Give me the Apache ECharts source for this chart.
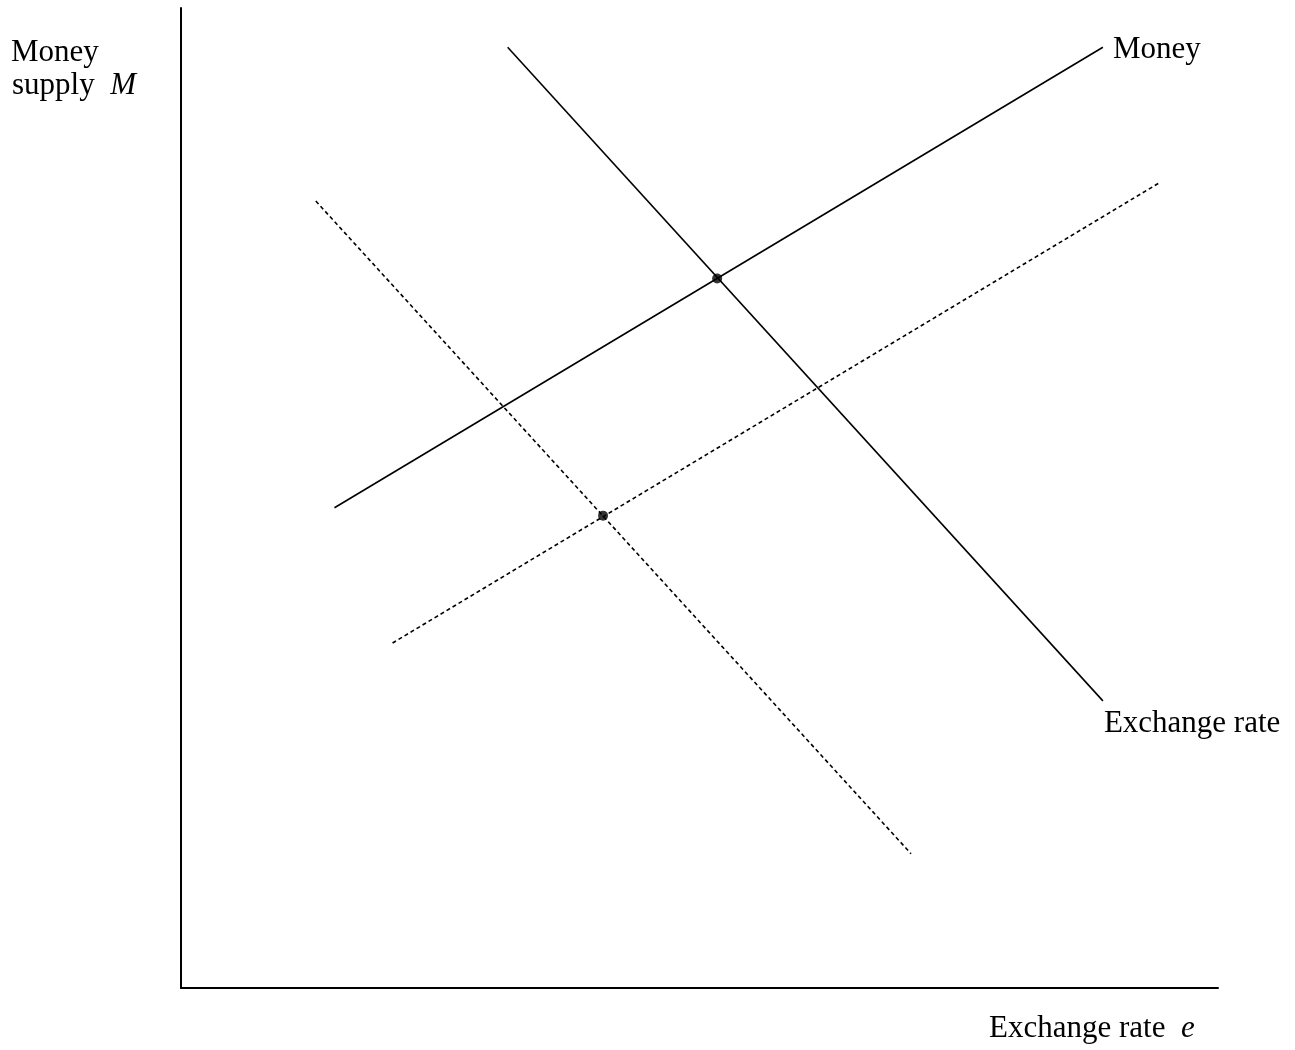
<!DOCTYPE html>
<html>
<head>
<meta charset="utf-8">
<script src="https://cdn.jsdelivr.net/npm/echarts@6/dist/echarts.min.js"></script>
<style>
html,body{margin:0;padding:0;background:#fff;}
#chart{width:1295px;height:1050px;}
</style>
</head>
<body>
<div id="chart"></div>
<script>
// Data (arbitrary units, x: 0-100, y: 0-100)
var moneyLine = [[14.8, 49.0], [88.9, 96.0]];
var exchangeLine = [[31.5, 96.0], [88.9, 29.3]];
var moneyLineShifted = [[20.4, 35.2], [94.4, 82.2]];
var exchangeLineShifted = [[13.0, 80.3], [70.4, 13.7]];
var equilibria = [[51.7, 72.4], [40.7, 48.2]];
var seriesNames = ['Money', 'Exchange rate'];
var yAxisTitle = ['Money', 'supply  {i|M}'];
var xAxisTitle = 'Exchange rate  {i|e}';

var FONT = '"Liberation Serif", "Times New Roman", serif';
var FS = 31;

var chart = echarts.init(document.getElementById('chart'));
chart.setOption({
  animation: false,
  backgroundColor: '#ffffff',
  grid: { left: 181, right: 77, top: 8, bottom: 62 },
  xAxis: {
    type: 'value', min: 0, max: 100,
    axisLine: { show: true, onZero: false, lineStyle: { color: '#000', width: 2 } },
    axisTick: { show: false }, axisLabel: { show: false }, splitLine: { show: false }
  },
  yAxis: {
    type: 'value', min: 0, max: 100,
    axisLine: { show: true, onZero: false, lineStyle: { color: '#000', width: 2 } },
    axisTick: { show: false }, axisLabel: { show: false }, splitLine: { show: false }
  },
  graphic: [
    { type: 'text', left: 11, top: 37, style: { text: yAxisTitle[0], fontFamily: FONT, fontSize: FS, fill: '#000' } },
    { type: 'text', left: 12, top: 70, style: { text: yAxisTitle[1], fontFamily: FONT, fontSize: FS, fill: '#000',
        rich: { i: { fontStyle: 'italic', fontFamily: FONT, fontSize: FS, fill: '#000' } } } },
    { type: 'text', left: 989, top: 1013, style: { text: xAxisTitle, fontFamily: FONT, fontSize: FS, fill: '#000',
        rich: { i: { fontStyle: 'italic', fontFamily: FONT, fontSize: FS, fill: '#000' } } } }
  ],
  series: [
    {
      type: 'line', name: seriesNames[0], data: moneyLine, symbol: 'none',
      lineStyle: { color: '#000', width: 1.6 },
      endLabel: { show: true, formatter: seriesNames[0], fontFamily: FONT, fontSize: FS, color: '#000', distance: 5, offset: [5, 3] }
    },
    {
      type: 'line', name: seriesNames[1], data: exchangeLine, symbol: 'none',
      lineStyle: { color: '#000', width: 1.6 },
      endLabel: { show: true, formatter: seriesNames[1], fontFamily: FONT, fontSize: FS, color: '#000', distance: 5, offset: [-4, 23] }
    },
    {
      type: 'line', data: moneyLineShifted, symbol: 'none',
      lineStyle: { color: '#000', width: 1.6, type: [4, 3] }
    },
    {
      type: 'line', data: exchangeLineShifted, symbol: 'none',
      lineStyle: { color: '#000', width: 1.6, type: [4, 3] }
    },
    {
      type: 'scatter', data: equilibria, symbol: 'circle', symbolSize: 10,
      itemStyle: { color: '#000' }, z: 5
    }
  ]
});
</script>
</body>
</html>
